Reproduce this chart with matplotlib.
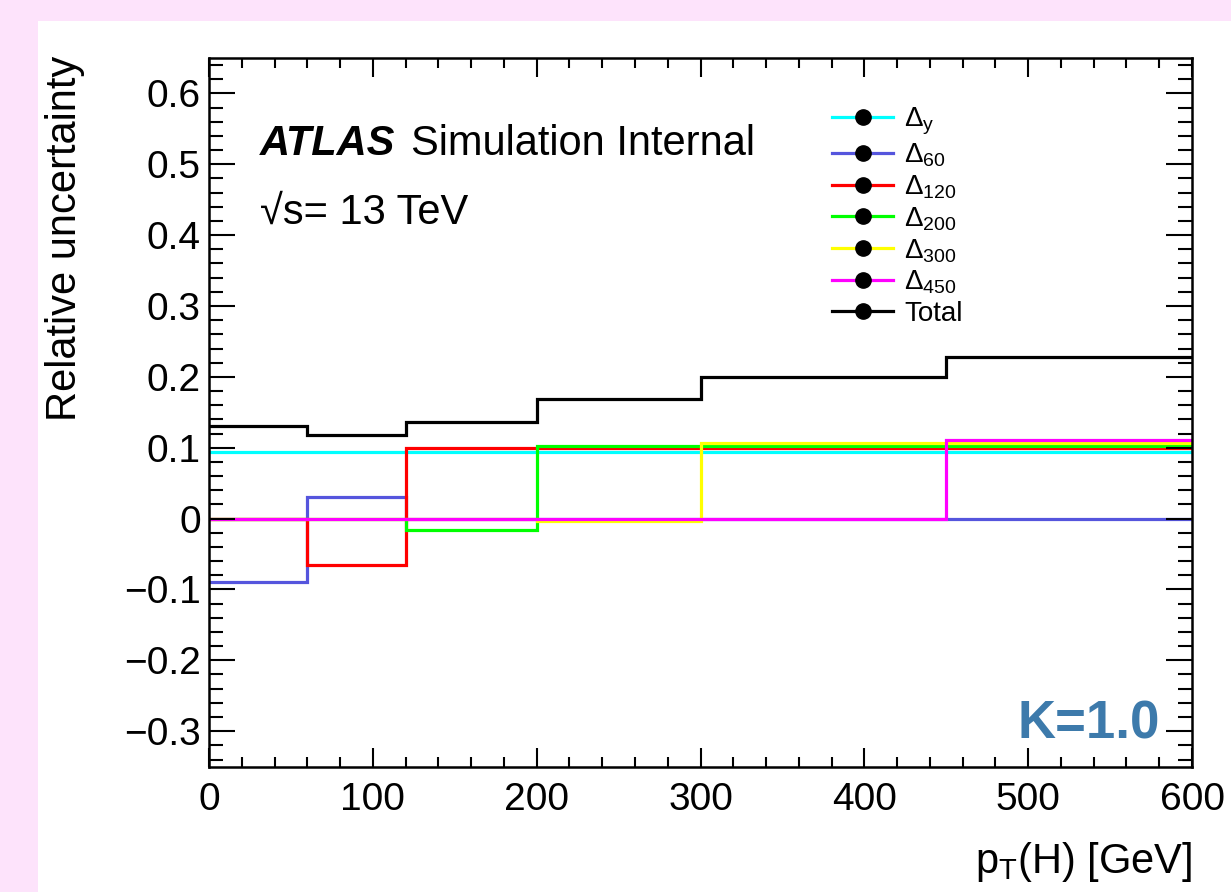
import matplotlib
matplotlib.use("Agg")
import matplotlib.pyplot as plt
from matplotlib.lines import Line2D
from matplotlib.patches import Rectangle
from matplotlib.ticker import MultipleLocator

plt.rcParams['font.family'] = ['Liberation Sans', 'DejaVu Sans']
plt.rcParams['mathtext.fontset'] = 'custom'
plt.rcParams['mathtext.rm'] = 'Liberation Sans'
plt.rcParams['mathtext.it'] = 'Liberation Sans:italic'
plt.rcParams['mathtext.bf'] = 'Liberation Sans:bold'

# ---- data ----
bin_edges = [0, 60, 120, 200, 300, 450, 600]
delta_y   = [0.094, 0.094, 0.094, 0.094, 0.094, 0.094]
delta_60  = [-0.090, 0.030, 0.0, 0.0, 0.0, 0.0]
delta_120 = [0.0, -0.065, 0.100, 0.100, 0.100, 0.100]
delta_200 = [0.0, 0.0, -0.0165, 0.103, 0.103, 0.103]
delta_300 = [0.0, 0.0, 0.0, -0.004, 0.107, 0.107]
delta_450 = [0.0, 0.0, 0.0, 0.0, 0.0, 0.111]
total     = [0.131, 0.118, 0.137, 0.169, 0.200, 0.228]

series_labels = [r'$\Delta_{\mathrm{y}}$', r'$\Delta_{60}$', r'$\Delta_{120}$',
                 r'$\Delta_{200}$', r'$\Delta_{300}$', r'$\Delta_{450}$', 'Total']
series_values = [delta_y, delta_60, delta_120, delta_200, delta_300, delta_450, total]
series_colors = ['#00ffff', '#5555dd', '#ff0000', '#00ff00', '#ffff00', '#ff00ff', '#000000']

W, H = 1231, 892
fig = plt.figure(figsize=(W / 100, H / 100), dpi=100)
fig.patch.set_facecolor('#fde3fb')
fig.patches.append(Rectangle((38 / W, 0), 1, 1 - 21 / H, transform=fig.transFigure,
                             facecolor='white', edgecolor='none', zorder=-10))

ax = fig.add_axes([209 / W, 1 - 766.6 / H, (1192 - 209) / W, (766.6 - 58) / H])
ax.set_zorder(1)
ax.set_facecolor('white')

for vals, col in zip(series_values, series_colors):
    ax.stairs(vals, bin_edges, color=col, linewidth=2.3, baseline=None)

ax.set_xlim(0, 600)
ax.set_ylim(-0.35, 0.65)
ax.xaxis.set_major_locator(MultipleLocator(100))
ax.xaxis.set_minor_locator(MultipleLocator(20))
ax.yaxis.set_major_locator(MultipleLocator(0.1))
ax.yaxis.set_minor_locator(MultipleLocator(0.02))
ax.yaxis.set_major_formatter(matplotlib.ticker.FuncFormatter(
    lambda v, p: '0' if abs(v) < 1e-9 else ('\u2212%.1f' % abs(v) if v < 0 else '%.1f' % v)))

ax.tick_params(which='both', direction='in', top=True, right=True,
               labelsize=28, width=1.5)
ax.tick_params(axis='x', which='both', pad=11)
ax.tick_params(axis='y', which='both', pad=6)
ax.tick_params(axis='x', which='major', length=14)
ax.tick_params(axis='x', which='minor', length=7)
ax.tick_params(axis='y', which='major', length=19)
ax.tick_params(axis='y', which='minor', length=10)
for s in ax.spines.values():
    s.set_linewidth(1.8)

fig.text(65 / W, 1 - 238 / H, 'Relative uncertainty', rotation=90, fontsize=30,
         ha='center', va='center')
fig.text(1192 / W, 1 - 862 / H, r'p$_{\mathrm{T}}$(H) [GeV]', fontsize=30,
         ha='right', va='center')

ax.text(0.052, 0.878, 'ATLAS', transform=ax.transAxes, fontsize=30,
        fontweight='bold', fontstyle='italic', va='center', ha='left')
ax.text(0.206, 0.878, 'Simulation Internal', transform=ax.transAxes, fontsize=30,
        va='center', ha='left')
ax.text(0.052, 0.781, '\u221as= 13 TeV', transform=ax.transAxes, fontsize=30,
        va='center', ha='left')

ax.text(0.967, 0.06, 'K=1.0', transform=ax.transAxes, fontsize=38,
        fontweight='bold', color='#3d7aab', ha='right', va='center')

handles = [Line2D([], [], color=c, linewidth=2.3, marker='o', markersize=11,
                  markerfacecolor='black', markeredgecolor='black')
           for c in series_colors]
ax.legend(handles, series_labels, loc='upper left',
          bbox_to_anchor=(623 / 983, 1 - 48 / 708.6), frameon=False,
          fontsize=20, handlelength=2.2, handletextpad=0.4, labelspacing=0.155,
          borderpad=0, borderaxespad=0)

fig.savefig('out.png', dpi=100, facecolor=fig.get_facecolor())
